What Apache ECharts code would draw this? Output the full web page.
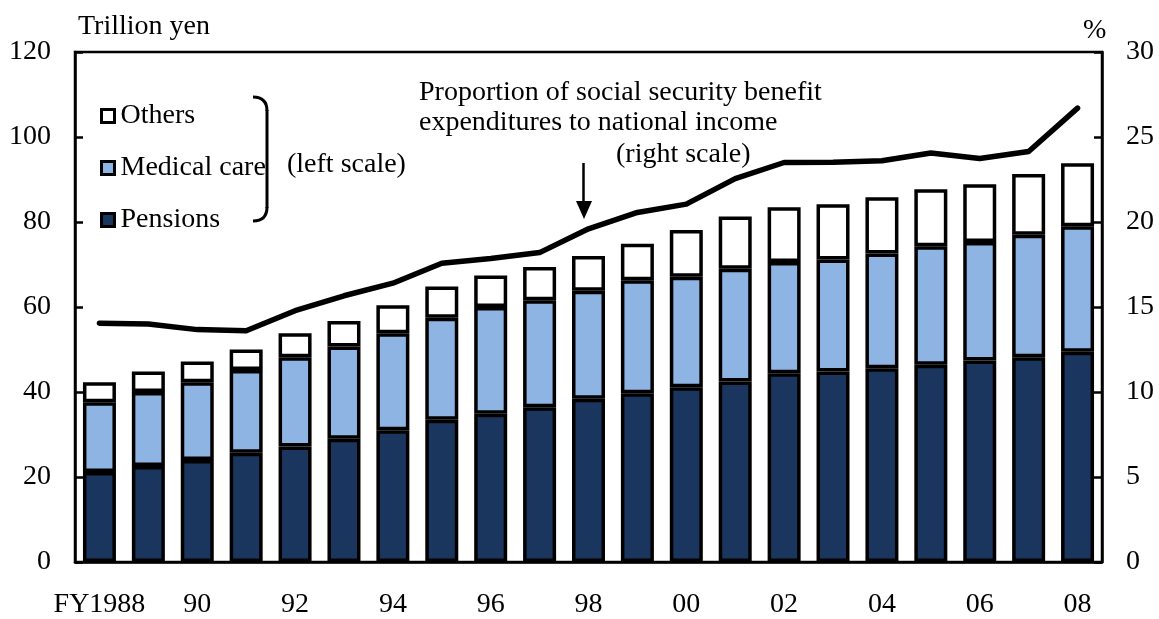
<!DOCTYPE html>
<html>
<head>
<meta charset="utf-8">
<script src="https://cdn.jsdelivr.net/npm/echarts@6/dist/echarts.min.js"></script>
<style>
  html, body { margin: 0; padding: 0; background: #fff; }
  #chart { width: 1159px; height: 619px; }
</style>
</head>
<body>
<div id="chart"></div>
<script>
// Fiscal years (tick text; every other one is shown)
const categories = ['FY1988','89','90','91','92','93','94','95','96','97','98','99','00','01','02','03','04','05','06','07','08'];

// Social security benefit expenditures, trillion yen (stacked)
const pensions = [21.2, 22.6, 24.0, 25.7, 27.2, 29.0, 31.0, 33.5, 34.9, 36.4, 38.4, 39.7, 41.1, 42.5, 44.4, 44.8, 45.6, 46.4, 47.4, 48.2, 49.5];
const medical  = [16.4, 17.4, 18.3, 19.5, 21.0, 21.7, 22.8, 24.0, 25.1, 25.2, 25.4, 26.6, 26.0, 26.5, 26.2, 26.4, 27.0, 27.9, 27.9, 28.8, 29.5];
const others   = [4.7, 4.8, 4.9, 4.8, 5.6, 6.0, 6.6, 7.3, 7.4, 7.8, 8.2, 8.6, 11.0, 12.3, 12.9, 13.0, 13.2, 13.4, 13.6, 14.3, 14.8];

// Benefit expenditures as a share of national income, %
const ratio = [14.05, 14.0, 13.67, 13.6, 14.78, 15.66, 16.4, 17.57, 17.85, 18.2, 19.6, 20.56, 21.05, 22.55, 23.5, 23.51, 23.6, 24.06, 23.73, 24.15, 26.7];

// Axis ticks
const leftTicks = { min: 0, max: 120, interval: 20 };
const rightTicks = { min: 0, max: 30, interval: 5 };

const FONT = '"Liberation Serif", "Times New Roman", serif';
const FS = 28;

const chart = echarts.init(document.getElementById('chart'), null, { renderer: 'canvas' });

const barBorder = { borderColor: '#000', borderWidth: 3.5 };

const yAxisCommon = {
  type: 'value',
  axisLine: { show: true, lineStyle: { color: '#000', width: 2.5 } },
  axisTick: { show: true, inside: true, length: 8, lineStyle: { color: '#000', width: 2.5 } },
  splitLine: { show: false },
  axisLabel: { color: '#000', fontFamily: FONT, fontSize: FS, margin: 24 }
};

const txt = (s) => ({ text: s, font: FS + 'px ' + FONT, fill: '#000' });

chart.setOption({
  animation: false,
  backgroundColor: '#fff',
  grid: { left: 75, right: 57, top: 52, bottom: 54, show: true, borderColor: '#000', borderWidth: 2.5, backgroundColor: 'transparent' },
  legend: {
    orient: 'vertical',
    left: 95,
    top: 97,
    itemGap: 24,
    itemWidth: 13,
    itemHeight: 13,
    icon: 'rect',
    data: ['Others', 'Medical care', 'Pensions'],
    itemStyle: { borderColor: '#000', borderWidth: 3 },
    textStyle: { color: '#000', fontFamily: FONT, fontSize: FS, lineHeight: 28, padding: [0, 0, 0, 1] },
    selectedMode: false
  },
  xAxis: {
    type: 'category',
    data: categories,
    axisLine: { show: true, lineStyle: { color: '#000', width: 2.5 } },
    axisTick: { show: false },
    axisLabel: { interval: 1, color: '#000', fontFamily: FONT, fontSize: FS, margin: 29 }
  },
  yAxis: [
    Object.assign({}, yAxisCommon, leftTicks, { position: 'left' }),
    Object.assign({}, yAxisCommon, rightTicks, { position: 'right' })
  ],
  series: [
    { name: 'Pensions', type: 'bar', stack: 'total', data: pensions, barWidth: 33,
      itemStyle: Object.assign({ color: '#1B365E' }, barBorder) },
    { name: 'Medical care', type: 'bar', stack: 'total', data: medical, barWidth: 33,
      itemStyle: Object.assign({ color: '#8EB4E3' }, barBorder) },
    { name: 'Others', type: 'bar', stack: 'total', data: others, barWidth: 33,
      itemStyle: Object.assign({ color: '#FFFFFF' }, barBorder) },
    { name: 'Ratio', type: 'line', yAxisIndex: 1, data: ratio, symbol: 'none', z: 5,
      lineStyle: { color: '#000', width: 5.5, join: 'round', cap: 'round' } }
  ],
  graphic: [
    { type: 'text', left: 78, top: 13, style: txt('Trillion yen') },
    { type: 'text', left: 1083, top: 17, style: txt('%') },
    // bracket grouping the legend
    { type: 'bezierCurve', shape: { x1: 253, y1: 97, x2: 267, y2: 111, cpx1: 267, cpy1: 97 },
      style: { stroke: '#000', lineWidth: 3, fill: null } },
    { type: 'line', shape: { x1: 267, y1: 110, x2: 267, y2: 208 }, style: { stroke: '#000', lineWidth: 3 } },
    { type: 'bezierCurve', shape: { x1: 267, y1: 207, x2: 253, y2: 221, cpx1: 267, cpy1: 221 },
      style: { stroke: '#000', lineWidth: 3, fill: null } },
    { type: 'text', left: 287, top: 151, style: txt('(left scale)') },
    // line annotation
    { type: 'text', left: 419, top: 79, style: txt('Proportion of social security benefit') },
    { type: 'text', left: 419, top: 109, style: txt('expenditures to national income') },
    { type: 'text', left: 616, top: 141, style: txt('(right scale)') },
    { type: 'line', shape: { x1: 583.5, y1: 163, x2: 583.5, y2: 205 }, style: { stroke: '#000', lineWidth: 2.5 } },
    { type: 'polygon', shape: { points: [[576, 201], [592, 201], [584, 219]] }, style: { fill: '#000' } }
  ]
});
</script>
</body>
</html>
